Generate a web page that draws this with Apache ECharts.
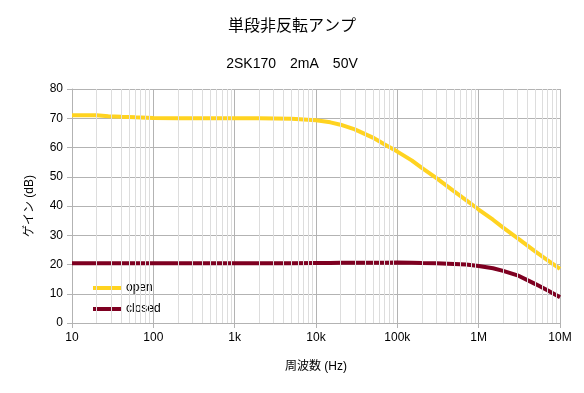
<!DOCTYPE html>
<html><head><meta charset="utf-8">
<script src="https://cdn.jsdelivr.net/npm/echarts@6/dist/echarts.min.js"></script>
<style>html,body{margin:0;padding:0;background:#fff}#c{width:584px;height:393px}</style>
</head><body><div id="c"></div>
<script>
const titleText = '単段非反転アンプ';
const subtitleText = '2SK170　2mA　50V';
const freq = [10, 20, 28, 40, 60, 100, 200, 500, 1000, 2000, 5000, 10000, 15000, 20000, 30000, 50000, 70000, 100000, 150000, 200000, 300000, 500000, 700000, 1000000, 1500000, 2000000, 3000000, 5000000, 7000000, 10000000];
const openGain = [71, 71, 70.7, 70.5, 70.3, 70.1, 70, 70, 70, 70, 69.8, 69.3, 68.6, 67.8, 66.2, 63.4, 61.0, 58.6, 55.6, 53.0, 49.6, 45.0, 42.0, 38.8, 35.3, 32.6, 29.0, 24.4, 21.5, 18.5];
const closedGain = [20.4, 20.4, 20.4, 20.4, 20.4, 20.4, 20.4, 20.4, 20.4, 20.4, 20.4, 20.5, 20.5, 20.6, 20.6, 20.6, 20.6, 20.7, 20.6, 20.5, 20.4, 20.2, 20.0, 19.5, 18.7, 17.8, 16.3, 13.3, 11.2, 8.8];
const minorFreq = [20,30,40,50,60,70,80,90,200,300,400,500,600,700,800,900,2000,3000,4000,5000,6000,7000,8000,9000,20000,30000,40000,50000,60000,70000,80000,90000,200000,300000,400000,500000,600000,700000,800000,900000,2000000,3000000,4000000,5000000,6000000,7000000,8000000,9000000];
const xLabels = {10:'10',100:'100',1000:'1k',10000:'10k',100000:'100k',1000000:'1M',10000000:'10M'};
const yTicks = {min:0, max:80, interval:10};

const FONT = '"Liberation Sans", "Noto Sans CJK JP", sans-serif';
const chart = echarts.init(document.getElementById('c'));
chart.setOption({
  animation: false,
  title: [
    {text: titleText, left: 'center', top: 14, textStyle: {fontFamily: FONT, fontSize: 16, fontWeight: 'normal', color: '#000'}},
    {text: subtitleText, left: 'center', top: 52, textStyle: {fontFamily: FONT, fontSize: 14, fontWeight: 'normal', color: '#000'}}
  ],
  grid: {left: 72, right: 24, top: 89, bottom: 70, containLabel: false},
  legend: {
    orient: 'vertical', left: 88, top: 277, itemWidth: 28, itemHeight: 4, itemGap: 9,
    icon: 'rect',
    textStyle: {fontFamily: FONT, fontSize: 12, color: '#000'},
    data: ['open', 'closed']
  },
  xAxis: [{
    type: 'log', min: 10, max: 10000000, logBase: 10,
    name: '周波数 (Hz)', nameLocation: 'middle', nameGap: 38,
    nameTextStyle: {fontFamily: FONT, fontSize: 12, color: '#000'},
    axisLine: {lineStyle: {color: '#b3b3b3'}},
    axisTick: {show: true, length: 5, lineStyle: {color: '#b3b3b3'}},
    axisLabel: {fontFamily: FONT, fontSize: 12, color: '#000', margin: 9, formatter: v => xLabels[Math.round(v)] || ''},
    splitLine: {show: true, lineStyle: {color: '#b3b3b3'}}
  }],
  yAxis: {
    type: 'value', min: yTicks.min, max: yTicks.max, interval: yTicks.interval,
    name: 'ゲイン (dB)', nameLocation: 'middle', nameGap: 36, nameRotate: 90,
    nameTextStyle: {fontFamily: FONT, fontSize: 12, color: '#000'},
    axisLine: {show: true, lineStyle: {color: '#b3b3b3'}},
    axisTick: {show: true, length: 5, lineStyle: {color: '#b3b3b3'}},
    axisLabel: {fontFamily: FONT, fontSize: 12, color: '#000', margin: 9},
    splitLine: {show: true, lineStyle: {color: '#b3b3b3'}}
  },
  series: [
    {
      name: 'minor', type: 'line', data: [], silent: true, z: 1,
      markLine: {
        silent: true, symbol: 'none', label: {show: false}, animation: false,
        lineStyle: {color: '#dddddd', type: 'solid', width: 1},
        data: minorFreq.map(f => ({xAxis: f}))
      }
    },
    {
      name: 'open', type: 'line', showSymbol: false, z: 3,
      color: '#ffd320', lineStyle: {width: 4, color: '#ffd320'},
      data: freq.map((f, i) => [f, openGain[i]])
    },
    {
      name: 'closed', type: 'line', showSymbol: false, z: 3,
      color: '#7e0021', lineStyle: {width: 4, color: '#7e0021'},
      data: freq.map((f, i) => [f, closedGain[i]])
    }
  ]
});
</script></body></html>
